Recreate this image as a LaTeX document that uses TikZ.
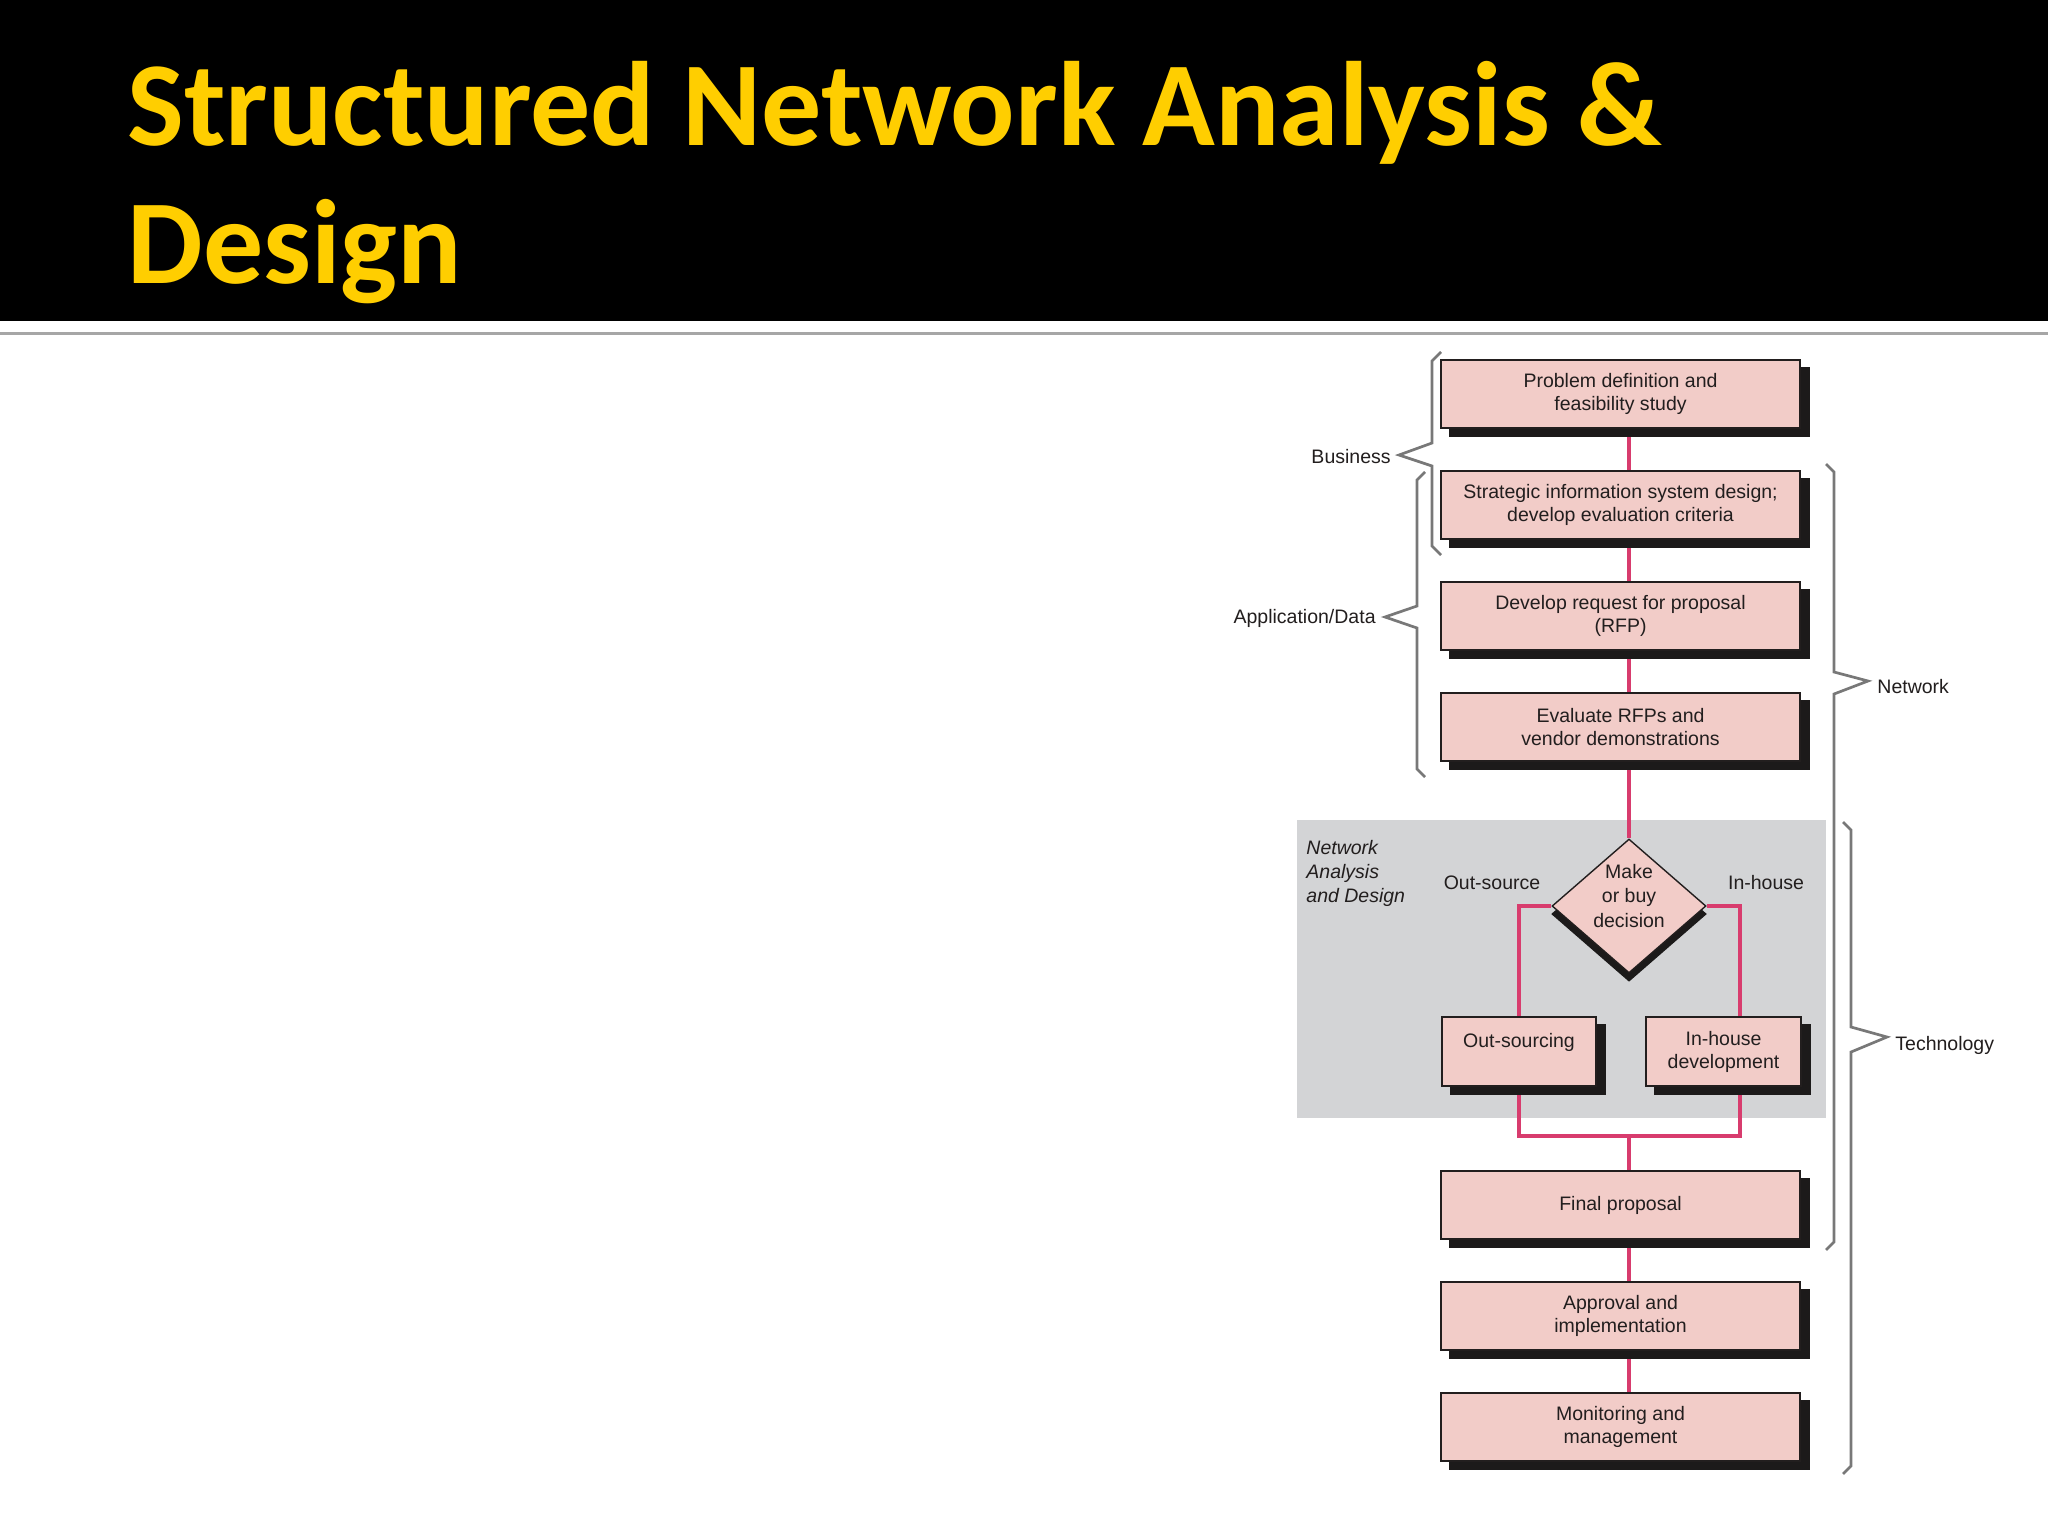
\documentclass[tikz,border=0pt]{standalone}
\usepackage{fontspec}
\setmainfont{Liberation Sans}
\newfontfamily\titlefont{Carlito}
\usetikzlibrary{shapes.geometric,calc}
\definecolor{pinkfill}{RGB}{242,204,200}
\definecolor{conncol}{RGB}{216,60,110}
\definecolor{shadowc}{RGB}{28,26,26}
\definecolor{regiongray}{RGB}{211,212,214}
\definecolor{bracegray}{RGB}{120,120,120}
\definecolor{titleyellow}{RGB}{255,206,0}
\definecolor{textc}{RGB}{34,30,30}
\pgfdeclarelayer{bg}
\pgfdeclarelayer{lines}
\pgfsetlayers{bg,lines,main}
\tikzset{
  boxfont/.style={font=\fontsize{9.75pt}{11.5pt}\selectfont, text=textc},
  stepbox/.style={rectangle, boxfont, align=center, fill=pinkfill, draw=textc, line width=0.7pt,
    minimum width=179.5pt, minimum height=34pt, inner sep=0pt,
    preaction={fill=shadowc, draw=shadowc, transform canvas={xshift=4.5pt,yshift=-4pt}}},
  smallbox/.style={stepbox, minimum width=77pt, minimum height=34.5pt},
  decbox/.style={diamond, fill=pinkfill, draw=textc, line width=0.7pt, minimum width=77pt,
    minimum height=67pt, inner sep=0pt,
    preaction={fill=shadowc, draw=shadowc, transform canvas={yshift=-4pt}}},
  conn/.style={draw=conncol, line width=1.8pt},
  bracep/.style={draw=bracegray, line width=1.35pt, line join=miter},
  lbl/.style={boxfont, inner sep=0pt},
}
\begin{document}
\begin{tikzpicture}[x=0.5pt,y=-0.5pt]
\useasboundingbox (0,0) rectangle (2048,1536);
\begin{pgfonlayer}{bg}
\fill[white] (0,0) rectangle (2048,1536);
\node[fill=regiongray, minimum width=264.5pt, minimum height=149pt, inner sep=0pt] (nad) at (1561.5,969) {};
\end{pgfonlayer}
% header
\fill[black] (0,0) rectangle (2048,321);
\draw[gray!70, line width=1.5pt] (0,333) -- (2048,333);
\node[anchor=base west, inner sep=0pt, text=titleyellow, font=\titlefont\bfseries\fontsize{60pt}{69pt}\selectfont] (t1) at (127,145) {Structured Network Analysis \&};
\node[anchor=base west, inner sep=0pt, text=titleyellow, font=\titlefont\bfseries\fontsize{60pt}{69pt}\selectfont] (t2) at (127,283) {Design};

\node[lbl, anchor=north west, align=left, font=\itshape\fontsize{9.75pt}{12pt}\selectfont] (nadl) at (1306,840) {Network\\Analysis\\and Design};

% boxes
\node[stepbox] (b1) at (1620.5,394) {Problem definition and\\feasibility study};
\node[stepbox] (b2) at (1620.5,505) {Strategic information system design;\\develop evaluation criteria};
\node[stepbox] (b3) at (1620.5,616) {Develop request for proposal\\(RFP)};
\node[stepbox] (b4) at (1620.5,727) {Evaluate RFPs and\\vendor demonstrations};
\node[decbox] (d) at (1629,906) {};
\node[lbl, align=center, font=\fontsize{9.75pt}{12.2pt}\selectfont] (dt) at (1629,896) {Make\\or buy\\decision};
\node[lbl] (osl) at (1492,883) {Out-source};
\node[lbl] (ihl) at (1766,883) {In-house};
\node[smallbox] (os) at (1519,1051.5) {Out-sourcing\\\mbox{}};
\node[smallbox, minimum width=77.5pt] (ih) at (1723.5,1051.5) {In-house\\development};
\node[stepbox] (fp) at (1620.5,1205) {Final proposal};
\node[stepbox] (ap) at (1620.5,1316) {Approval and\\implementation};
\node[stepbox] (mm) at (1620.5,1427) {Monitoring and\\management};
\coordinate (j) at (1629,1136);

% connectors
\begin{pgfonlayer}{lines}
\draw[conn] ([xshift=4.25pt]b1.south) -- ([xshift=4.25pt]b2.north);
\draw[conn] ([xshift=4.25pt]b2.south) -- ([xshift=4.25pt]b3.north);
\draw[conn] ([xshift=4.25pt]b3.south) -- ([xshift=4.25pt]b4.north);
\draw[conn] ([xshift=4.25pt]b4.south) -- (d.north);
\draw[conn] (d.west) -| (os.north);
\draw[conn] (d.east) -| ([xshift=8.25pt]ih.north);
\draw[conn] (os.south) |- (j);
\draw[conn] ([xshift=8.25pt]ih.south) |- (j);
\draw[conn] (j) -- ([xshift=4.25pt]fp.north);
\draw[conn] ([xshift=4.25pt]fp.south) -- ([xshift=4.25pt]ap.north);
\draw[conn] ([xshift=4.25pt]ap.south) -- ([xshift=4.25pt]mm.north);
\end{pgfonlayer}

% braces
\draw[bracep] (1441,352) -- (1432,361) -- (1432,443) -- (1399,455) -- (1432,466) -- (1432,546) -- (1441,555);
\node[lbl, anchor=east] (bus) at (1391,457) {Business};
\draw[bracep] (1425,472) -- (1417,480) -- (1417,606) -- (1385,617) -- (1417,628) -- (1417,769) -- (1425,777);
\node[lbl, anchor=east] (app) at (1376,618) {Application/Data};
\draw[bracep] (1826,464) -- (1834,472) -- (1834,672) -- (1868,681) -- (1834,694) -- (1834,1242) -- (1826,1250);
\node[lbl, anchor=west] (net) at (1877,687) {Network};
\draw[bracep] (1843,822) -- (1851,830) -- (1851,1027) -- (1887,1037) -- (1851,1052) -- (1851,1466) -- (1843,1474);
\node[lbl, anchor=west] (tech) at (1895,1045) {Technology};
\end{tikzpicture}
\end{document}
